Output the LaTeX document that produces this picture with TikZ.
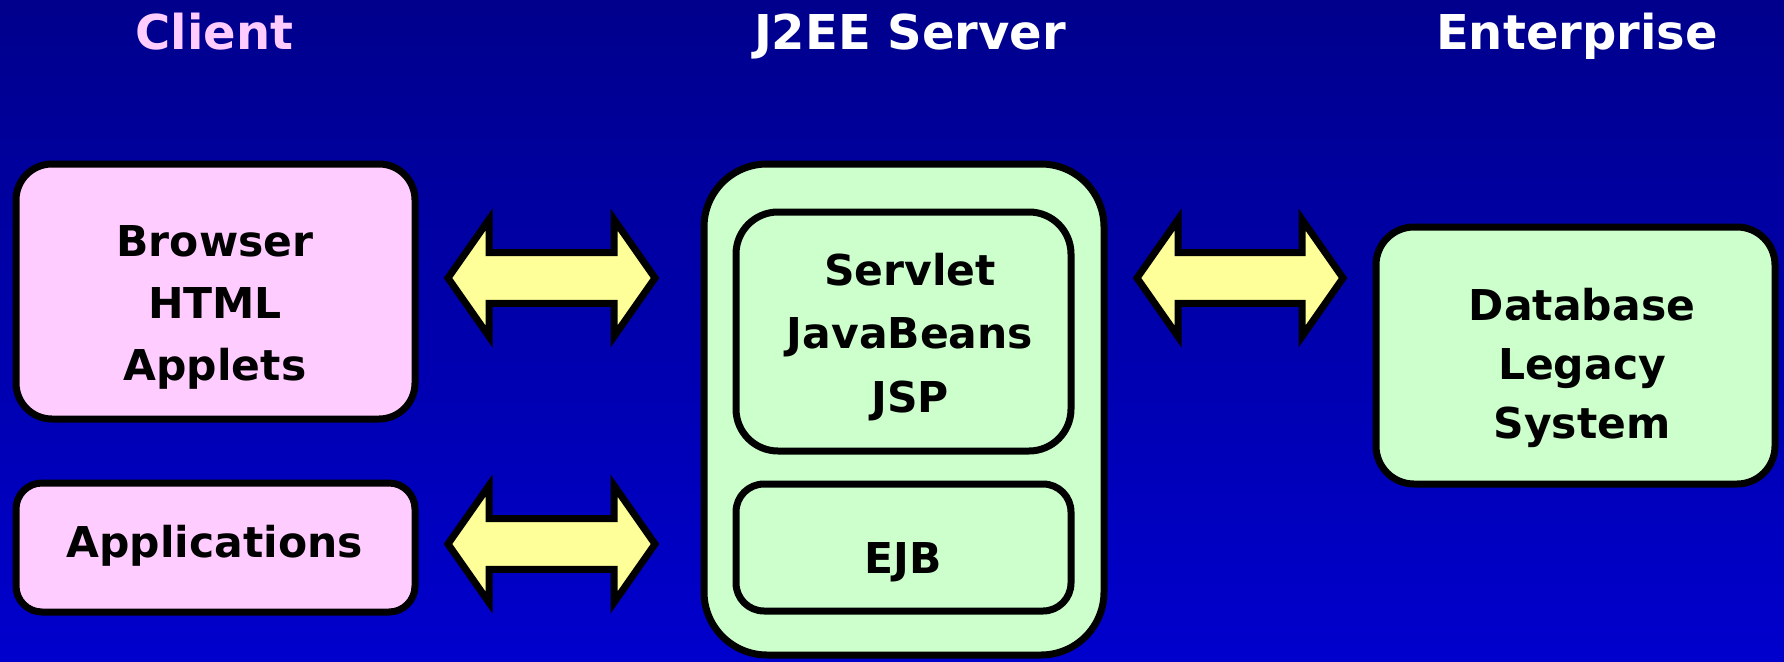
\documentclass[tikz,border=0pt]{standalone}
\usepackage{fontspec}
\setmainfont{DejaVu Sans}
\usetikzlibrary{calc}
\definecolor{bgtop}{RGB}{0,0,140}
\definecolor{bgbot}{RGB}{0,0,205}
\definecolor{pinkfill}{RGB}{255,204,255}
\definecolor{greenfill}{RGB}{204,255,204}
\definecolor{arrowfill}{RGB}{255,255,153}
\definecolor{clienttitle}{RGB}{255,204,255}
\newcommand\boxlines[2]{\fontsize{42.5}{#1}\selectfont\bfseries\begin{tabular}[t]{@{}c@{}}#2\end{tabular}}
\newcommand\blockdblarrow[3]{%
  \draw[blockarrow] (#1,#3) -- (#1+41,#3-58.5) -- (#1+41,#3-25.3) -- (#2-41,#3-25.3)
    -- (#2-41,#3-58.5) -- (#2,#3) -- (#2-41,#3+58.5) -- (#2-41,#3+25.3)
    -- (#1+41,#3+25.3) -- (#1+41,#3+58.5) -- cycle;}
\tikzset{
  boxshape/.style={draw=black, line width=7pt, rectangle, inner sep=0pt},
  pinkbox/.style={boxshape, fill=pinkfill},
  greenbox/.style={boxshape, fill=greenfill},
  blockarrow/.style={draw=black, fill=arrowfill, line width=7pt, line join=miter},
  titletext/.style={font=\fontsize{48}{58}\selectfont\bfseries, inner sep=0pt, anchor=base},
  labeltext/.style={inner sep=0pt, anchor=base, text=black},
}
\begin{document}
\begin{tikzpicture}[x=1pt, y=-1pt]
\useasboundingbox (0,0) rectangle (1784,661);
\shade[top color=bgtop, bottom color=bgbot] (0,0) rectangle (1784,661);

% titles
\node[titletext, text=clienttitle] (clienttitle) at (214.5,50) {Client};
\node[titletext, text=white] (servertitle) at (910,49) {J2EE Server};
\node[titletext, text=white] (enttitle) at (1577,49) {Enterprise};

% client boxes
\node[pinkbox, rounded corners=36pt, minimum width=399pt, minimum height=255pt] (browser) at (215.5,291.5) {};
\node[labeltext] (browsertext) at (215,256) {\boxlines{62}{Browser\\HTML\\Applets}};
\node[pinkbox, rounded corners=26pt, minimum width=399pt, minimum height=129pt] (apps) at (215.5,547.5) {};
\node[labeltext] (appstext) at (214.5,557) {\boxlines{62}{Applications}};

% server
\node[greenbox, rounded corners=63pt, minimum width=400pt, minimum height=491pt] (server) at (904,409.5) {};
\node[greenbox, rounded corners=42pt, minimum width=335pt, minimum height=239pt] (servlet) at (903.5,331.5) {};
\node[labeltext] (servlettext) at (910,285) {\boxlines{63.5}{Servlet\\JavaBeans\\JSP}};
\node[greenbox, rounded corners=28pt, minimum width=335pt, minimum height=127pt] (ejb) at (903.5,547.5) {};
\node[labeltext] (ejbtext) at (903.5,573) {\boxlines{62}{EJB}};

% enterprise
\node[greenbox, rounded corners=38pt, minimum width=399pt, minimum height=257pt] (db) at (1575.5,355.5) {};
\node[labeltext] (dbtext) at (1582,320) {\boxlines{59}{Database\\Legacy\\System}};

% block arrows
\blockdblarrow{448}{655}{278}
\blockdblarrow{448}{655}{544}
\blockdblarrow{1137}{1343}{278}
\end{tikzpicture}
\end{document}
